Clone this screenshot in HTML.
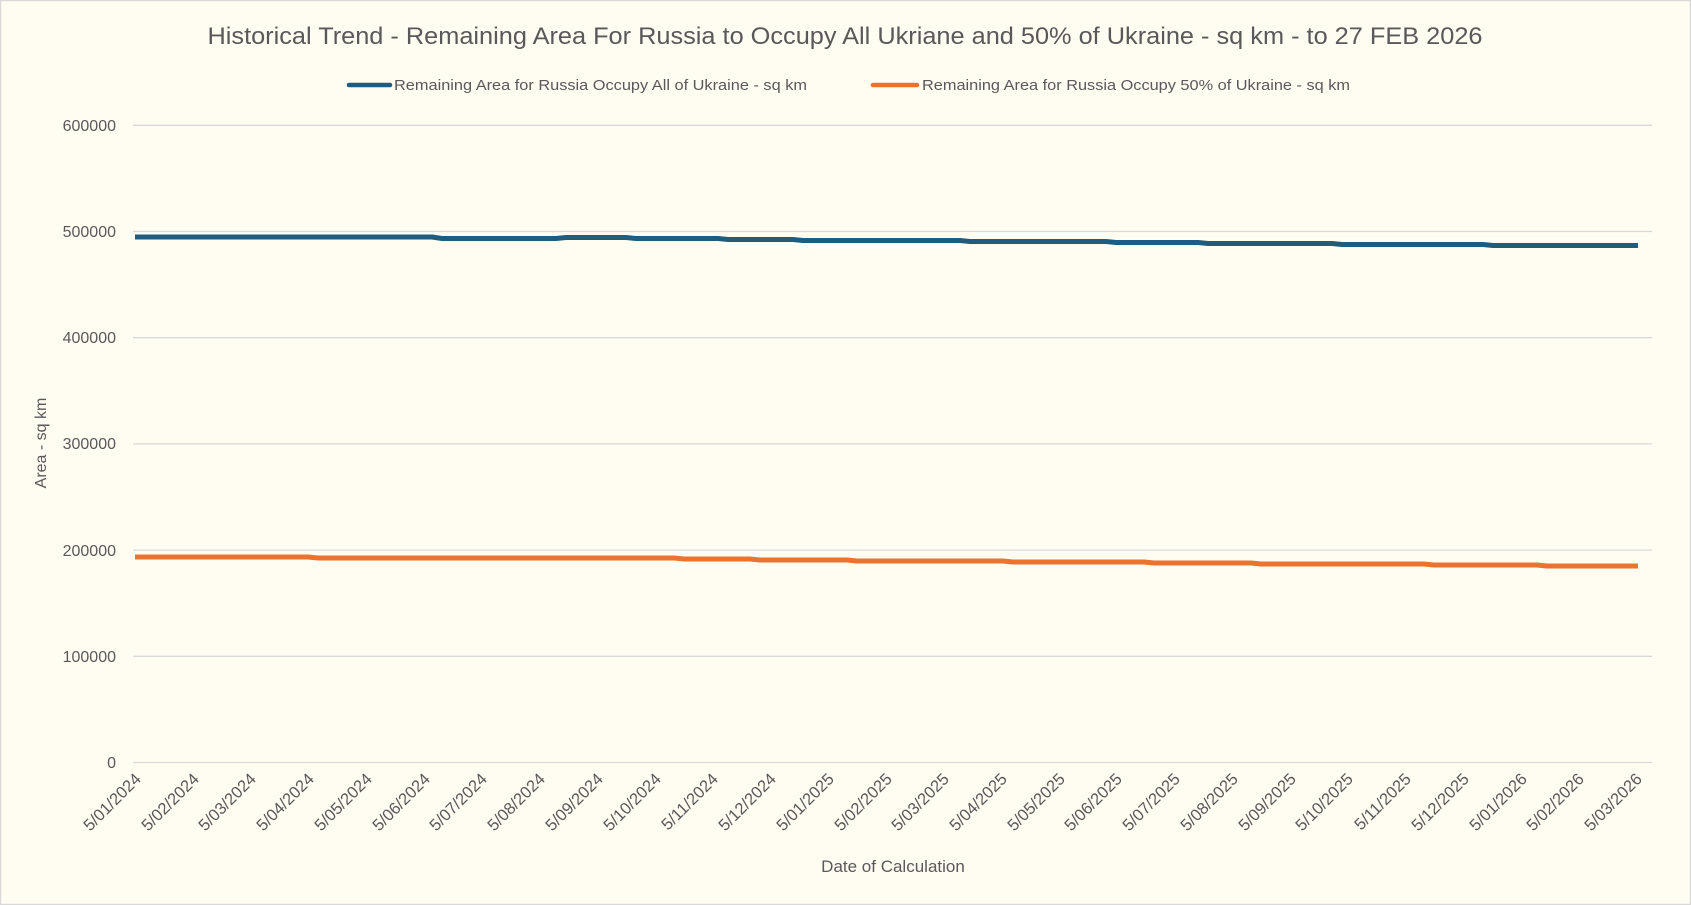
<!DOCTYPE html>
<html><head><meta charset="utf-8"><style>
html,body{margin:0;padding:0;background:#fffcf2;}
svg{display:block;}
text{font-family:"Liberation Sans",sans-serif;fill:#595959;}
</style></head><body>
<svg width="1691" height="905" viewBox="0 0 1691 905" xmlns="http://www.w3.org/2000/svg">
<rect x="0.5" y="0.5" width="1690" height="904" fill="#fffcf2" stroke="#d9d9d9" stroke-width="1.5"/>
<text x="845" y="44" font-size="24" text-anchor="middle" textLength="1275" lengthAdjust="spacingAndGlyphs">Historical Trend - Remaining Area For Russia to Occupy All Ukriane and 50% of Ukraine - sq km - to 27 FEB 2026</text>
<line x1="349" y1="85" x2="390" y2="85" stroke="#1f5c7e" stroke-width="4.5" stroke-linecap="round"/>
<text x="394" y="90" font-size="15" textLength="413" lengthAdjust="spacingAndGlyphs">Remaining Area for Russia Occupy All of Ukraine - sq km</text>
<line x1="873" y1="85" x2="917" y2="85" stroke="#e9732f" stroke-width="4.5" stroke-linecap="round"/>
<text x="922" y="90" font-size="15" textLength="428" lengthAdjust="spacingAndGlyphs">Remaining Area for Russia Occupy 50% of Ukraine - sq km</text>
<g stroke="#d9d9d9" stroke-width="1.3">
<line x1="133" y1="125.3" x2="1652" y2="125.3"/>
<line x1="133" y1="231.5" x2="1652" y2="231.5"/>
<line x1="133" y1="337.7" x2="1652" y2="337.7"/>
<line x1="133" y1="443.9" x2="1652" y2="443.9"/>
<line x1="133" y1="550.1" x2="1652" y2="550.1"/>
<line x1="133" y1="656.3" x2="1652" y2="656.3"/>
<line x1="133" y1="762.5" x2="1652" y2="762.5"/>
</g>
<g font-size="16" text-anchor="end">
<text x="116" y="131">600000</text>
<text x="116" y="237">500000</text>
<text x="116" y="343">400000</text>
<text x="116" y="449">300000</text>
<text x="116" y="556">200000</text>
<text x="116" y="662">100000</text>
<text x="116" y="768">0</text>
</g>
<text transform="translate(46,443) rotate(-90)" font-size="16" text-anchor="middle">Area - sq km</text>
<text x="893" y="872" font-size="17" text-anchor="middle">Date of Calculation</text>
<polyline fill="none" stroke="#1f5c7e" stroke-width="5" stroke-linejoin="round" points="135,237 432,237 442,238.5 556,238.5 566,237.5 626,237.5 636,238.5 718,238.5 728,239.5 793,239.5 803,240.5 960,240.5 970,241.5 1106,241.5 1116,242.5 1198,242.5 1208,243.5 1332,243.5 1342,244.5 1483,244.5 1493,245.5 1638,245.5"/>
<polyline fill="none" stroke="#e9732f" stroke-width="5" stroke-linejoin="round" points="135,557 308,557 318,558 674,558 684,559 750,559 760,560 847,560 857,561 1003,561 1013,562 1144,562 1154,563 1251,563 1261,564 1424,564 1434,565 1537,565 1547,566 1638,566"/>
<g font-size="16.5" text-anchor="end">
<text transform="translate(142,780) rotate(-45)">5/01/2024</text>
<text transform="translate(200,780) rotate(-45)">5/02/2024</text>
<text transform="translate(257,780) rotate(-45)">5/03/2024</text>
<text transform="translate(315,780) rotate(-45)">5/04/2024</text>
<text transform="translate(373,780) rotate(-45)">5/05/2024</text>
<text transform="translate(431,780) rotate(-45)">5/06/2024</text>
<text transform="translate(488,780) rotate(-45)">5/07/2024</text>
<text transform="translate(546,780) rotate(-45)">5/08/2024</text>
<text transform="translate(604,780) rotate(-45)">5/09/2024</text>
<text transform="translate(662,780) rotate(-45)">5/10/2024</text>
<text transform="translate(719,780) rotate(-45)">5/11/2024</text>
<text transform="translate(777,780) rotate(-45)">5/12/2024</text>
<text transform="translate(835,780) rotate(-45)">5/01/2025</text>
<text transform="translate(893,780) rotate(-45)">5/02/2025</text>
<text transform="translate(950,780) rotate(-45)">5/03/2025</text>
<text transform="translate(1008,780) rotate(-45)">5/04/2025</text>
<text transform="translate(1066,780) rotate(-45)">5/05/2025</text>
<text transform="translate(1123,780) rotate(-45)">5/06/2025</text>
<text transform="translate(1181,780) rotate(-45)">5/07/2025</text>
<text transform="translate(1239,780) rotate(-45)">5/08/2025</text>
<text transform="translate(1297,780) rotate(-45)">5/09/2025</text>
<text transform="translate(1354,780) rotate(-45)">5/10/2025</text>
<text transform="translate(1412,780) rotate(-45)">5/11/2025</text>
<text transform="translate(1470,780) rotate(-45)">5/12/2025</text>
<text transform="translate(1528,780) rotate(-45)">5/01/2026</text>
<text transform="translate(1585,780) rotate(-45)">5/02/2026</text>
<text transform="translate(1643,780) rotate(-45)">5/03/2026</text>
</g>
</svg>
</body></html>
